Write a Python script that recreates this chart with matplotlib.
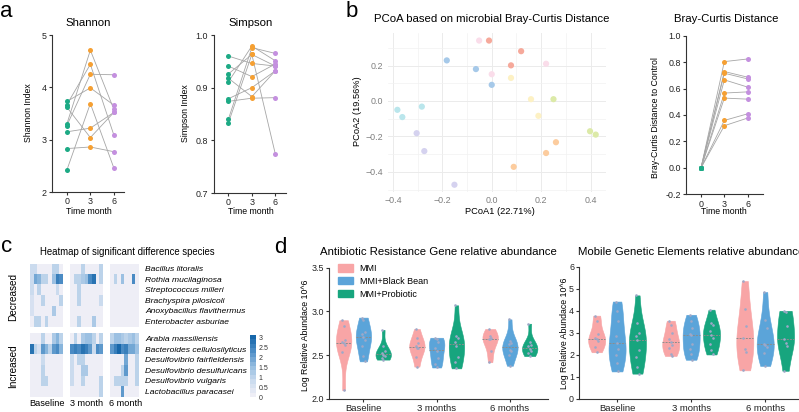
import numpy as np
import matplotlib
matplotlib.use("Agg")
import matplotlib.pyplot as plt
from matplotlib.colors import LinearSegmentedColormap
from matplotlib.patches import Patch
from matplotlib.cm import ScalarMappable
from matplotlib.colors import Normalize

plt.rcParams['font.family'] = ['Liberation Sans', 'DejaVu Sans']
plt.rcParams['axes.unicode_minus'] = False

# ---------------- data ----------------
months = [0, 3, 6]
shannon_0 = [3.30, 3.67, 3.27, 3.73, 2.42, 3.15, 3.62, 2.83]
shannon_3 = [4.71, 4.44, 4.25, 3.99, 3.69, 3.22, 3.04, 2.86]
shannon_6 = [3.58, 3.09, 4.24, 3.66, 2.46, 3.52, 3.52, 2.77]

simpson_0 = [0.840, 0.911, 0.960, 0.926, 0.941, 0.879, 0.874, 0.918, 0.833]
simpson_3 = [0.976, 0.979, 0.946, 0.963, 0.921, 0.900, 0.880, 0.883, 0.963]
simpson_6 = [0.965, 0.951, 0.941, 0.774, 0.945, 0.932, 0.881, 0.932, 0.941]

bray_0 = [0, 0, 0, 0, 0, 0, 0, 0]
bray_3 = [0.804, 0.729, 0.716, 0.666, 0.566, 0.528, 0.359, 0.319]
bray_6 = [0.824, 0.686, 0.673, 0.611, 0.575, 0.520, 0.409, 0.377]

pcoa1 = [-0.051, 0.220, 0.000, -0.011, 0.119, 0.078, -0.182, -0.064, 0.000,
         0.078, 0.159, 0.189, 0.250, 0.398, 0.421, 0.260, 0.220, 0.089,
         -0.382, -0.283, -0.362, -0.304, -0.273, -0.151]
pcoa2 = [0.341, 0.210, 0.151, 0.341, 0.281, 0.201, 0.229, 0.180, 0.091,
         0.130, 0.010, -0.084, 0.010, -0.171, -0.190, -0.233, -0.294, -0.372,
         -0.050, -0.032, -0.091, -0.182, -0.283, -0.473]
pcoa_subject = [0, 0, 0, 1, 1, 1, 2, 2, 2, 3, 3, 3, 4, 4, 4, 5, 5, 5, 6, 6, 6, 7, 7, 7]

decreased_species = ['Bacillus litoralis', 'Rothia mucilaginosa', 'Streptococcus milleri',
                     'Brachyspira pilosicoli', 'Anoxybacillus flavithermus', 'Enterobacter asburiae']
increased_species = ['Arabia massiliensis', 'Bacteroides cellulosilyticus', 'Desulfovibrio fairfieldensis',
                     'Desulfovibrio desulfuricans', 'Desulfovibrio vulgaris', 'Lactobacillus paracasei']
heat_periods = ['Baseline', '3 month', '6 month']

heat_dec_base = [[0.8, 0.8, 0, 0, 0, 0, 1.0, 1.0, 0],
                 [0.8, 1.9, 1.6, 0.9, 0.9, 0, 1.5, 2.6, 2.3],
                 [0.7, 0, 0.9, 0, 0, 0, 0, 0.8, 0],
                 [0.6, 0, 0, 0.9, 0, 0, 0, 0, 0.9],
                 [0.6, 0, 0, 0, 0, 0, 1.3, 0, 0],
                 [0, 1.0, 1.0, 0, 1.0, 0, 0, 0, 0]]
heat_dec_3m = [[0, 0, 0, 1.0, 0, 0, 0, 0, 0.9],
               [0, 0.9, 1.0, 1.2, 1.4, 2.3, 2.7, 0, 1.0],
               [0, 0, 1.0, 0, 0, 0, 0, 0, 0],
               [0, 0, 0.9, 0, 0, 0, 0, 0, 0.8],
               [0, 0, 0, 0, 0, 0, 0, 0, 0],
               [0, 0, 1.0, 0, 0, 0, 1.2, 0, 0]]
heat_dec_6m = [[0, 0, 0, 0, 0, 0, 0, 0],
               [0, 1.0, 0, 1.4, 0, 0, 2.3, 0],
               [0, 0, 0, 0, 0, 0, 0, 0],
               [0, 0, 0, 0, 0, 0, 0, 0],
               [0, 0, 0, 0, 0, 0, 0, 0],
               [0, 0, 0, 0, 0, 0, 0, 0]]
heat_inc_base = [[0, 0, 0, 1.0, 0, 0, 1.3, 1.6, 1.0],
                 [2.8, 1.0, 0.6, 2.2, 1.6, 0.9, 2.0, 2.4, 1.7],
                 [0, 0, 0, 0.8, 0, 0, 0, 0, 0],
                 [0, 0, 0, 0.9, 0, 0, 0, 0, 0],
                 [0, 0, 0, 0.9, 0.9, 0, 0, 0, 0],
                 [0, 0, 0, 0, 0, 0, 0, 0, 0]]
heat_inc_3m = [[0, 1.0, 0, 1.2, 1.4, 1.5, 1.0, 0, 1.0],
               [2.3, 2.6, 2.4, 2.8, 2.5, 2.2, 0.8, 2.3, 2.1],
               [0.8, 0, 0.9, 1.0, 0, 0, 0, 0, 0],
               [0.8, 0, 0, 1.2, 1.2, 0, 0, 0, 0],
               [0.8, 0, 0, 0.9, 0, 0, 0, 0, 0.9],
               [0, 0, 0, 0, 0, 0, 0, 0, 0.9]]
heat_inc_6m = [[0.9, 1.4, 1.5, 1.2, 1.0, 1.3, 1.5, 1.1],
               [2.2, 2.6, 2.9, 2.3, 2.5, 1.8, 1.9, 1.4],
               [0, 0, 0, 0, 1.8, 0, 0, 1.0],
               [0, 0, 0, 1.0, 2.0, 0, 0, 1.0],
               [0, 1.0, 1.0, 1.0, 1.0, 0, 0, 1.0],
               [0, 0, 0, 2.2, 0, 0, 0, 0]]
heat_ticks = [0, 0.5, 1, 1.5, 2, 2.5, 3]

violin_groups = ['MMI', 'MMI+Black Bean', 'MMI+Probiotic']
violin_cats = ['Baseline', '3 months', '6 months']
arg_mmi = [[2.90, 2.83, 2.67, 2.65, 2.64, 2.62, 2.54, 2.10],
           [2.80, 2.70, 2.64, 2.60, 2.58, 2.58, 2.48, 2.37],
           [2.80, 2.72, 2.70, 2.69, 2.68, 2.55, 2.42]]
arg_bb = [[2.93, 2.90, 2.77, 2.74, 2.71, 2.67, 2.60, 2.49, 2.43],
          [2.70, 2.68, 2.65, 2.58, 2.55, 2.47, 2.40, 2.36],
          [2.91, 2.66, 2.64, 2.63, 2.56, 2.55, 2.50, 2.38]]
arg_pro = [[2.79, 2.60, 2.55, 2.52, 2.50, 2.49, 2.47, 2.45],
           [3.07, 2.72, 2.70, 2.65, 2.60, 2.48, 2.42, 2.35],
           [2.86, 2.65, 2.62, 2.60, 2.57, 2.55, 2.52, 2.49]]
mge_mmi = [[3.78, 3.55, 2.95, 2.75, 2.70, 2.62, 2.35, 2.12],
           [3.55, 3.35, 3.00, 2.70, 2.60, 2.45, 2.30, 2.05, 1.95],
           [5.35, 4.10, 3.30, 2.78, 2.25, 2.15, 1.30]]
mge_bb = [[4.42, 4.00, 3.55, 2.85, 2.55, 2.25, 2.00, 1.65, 1.25],
          [3.82, 3.55, 3.20, 2.95, 2.90, 2.50, 2.25, 2.05, 1.78],
          [4.85, 3.60, 3.20, 2.50, 2.45, 2.35, 2.10, 1.50]]
mge_pro = [[4.70, 3.45, 3.00, 2.85, 2.68, 2.20, 1.90, 1.45, 1.15],
           [4.05, 3.45, 3.35, 3.10, 2.88, 2.75, 2.50, 2.20, 2.02],
           [4.00, 3.95, 3.30, 2.70, 2.55, 2.40, 1.28]]

# ---------------- styles ----------------
W, H = 799, 412
C_GREEN, C_ORANGE, C_PURPLE = '#1DAA85', '#F5A033', '#C490DF'
PCOA_COLORS = ['#FADDEA', '#F6A99B', '#A6C9E9', '#FDF1C4', '#DCEAA8', '#FCCC9E', '#BAE6EC', '#D5D2EF']
VCOLORS = ['#F8A5A6', '#5BA4D9', '#17A57E']
SPINE = '#333333'
TFS, LFS, KFS = 8.2, 6.3, 6.4

fig = plt.figure(figsize=(W / 100, H / 100), dpi=100)


def add_ax(l, t, r, b):
    return fig.add_axes([l / W, 1 - b / H, (r - l) / W, (b - t) / H])


def ftext(x, y, s, **kw):
    kw.setdefault('ha', 'center')
    kw.setdefault('va', 'center')
    return fig.text(x / W, 1 - y / H, s, **kw)


def prism_axes(ax):
    for s in ['top', 'right']:
        ax.spines[s].set_visible(False)
    for s in ['left', 'bottom']:
        ax.spines[s].set_color(SPINE)
        ax.spines[s].set_linewidth(0.8)
    ax.tick_params(length=2.3, width=0.8, color=SPINE, labelsize=KFS, pad=1.5, labelcolor='#222222')


def paired(ax, v0, v3, v6, ylim, yticks, ylabels):
    for a, b, c in zip(v0, v3, v6):
        ax.plot(months, [a, b, c], color='#A6A6A6', lw=0.6, zorder=1)
    for m, vals, col in zip(months, [v0, v3, v6], [C_GREEN, C_ORANGE, C_PURPLE]):
        ax.scatter([m] * len(vals), vals, s=13, color=col, zorder=3, linewidths=0)
    ax.set_ylim(*ylim)
    ax.set_yticks(yticks)
    ax.set_yticklabels(ylabels)
    ax.set_xticks(months)
    prism_axes(ax)


# ---------------- panel a ----------------
ax = add_ax(52, 35, 124, 192)
ax.set_xlim(-1.9, 7.3)
paired(ax, shannon_0, shannon_3, shannon_6, (2, 5), [2, 3, 4, 5], ['2', '3', '4', '5'])
ftext(88, 23, 'Shannon', fontsize=TFS)
ftext(29, 113, 'Shannon Index', fontsize=LFS, rotation=90)
ftext(89, 211, 'Time month', fontsize=LFS)

ax = add_ax(213.5, 35, 285.5, 193)
ax.set_xlim(-1.9, 7.3)
paired(ax, simpson_0, simpson_3, simpson_6, (0.7, 1.0), [0.7, 0.8, 0.9, 1.0], ['0.7', '0.8', '0.9', '1.0'])
ftext(251, 23, 'Simpson', fontsize=TFS)
ftext(185, 113, 'Simpson Index', fontsize=LFS, rotation=90)
ftext(251, 211, 'Time month', fontsize=LFS)

# ---------------- panel b ----------------
axp = add_ax(387.5, 33.3, 605.6, 192)
axp.set_xlim(-0.422, 0.461)
axp.set_ylim(-0.514, 0.382)
for s in axp.spines.values():
    s.set_visible(False)
axp.set_xticks([-0.4, -0.2, 0.0, 0.2, 0.4])
axp.set_xticklabels(['\u22120.4', '\u22120.2', '0.0', '0.2', '0.4'])
axp.set_yticks([-0.4, -0.2, 0.0, 0.2])
axp.set_yticklabels(['\u22120.4', '\u22120.2', '0.0', '0.2'])
axp.set_xticks([-0.3, -0.1, 0.1, 0.3], minor=True)
axp.set_yticks([-0.5, -0.3, -0.1, 0.1, 0.3], minor=True)
axp.grid(which='major', color='#EBEBEB', lw=0.7)
axp.grid(which='minor', color='#F2F2F2', lw=0.5)
axp.set_axisbelow(True)
axp.tick_params(which='both', length=0, labelsize=KFS, labelcolor='#7F7F7F', pad=3)
pc = [PCOA_COLORS[i] for i in pcoa_subject]
axp.scatter(pcoa1, pcoa2, s=20, c=pc, linewidths=0, zorder=3)
ftext(492, 19, 'PCoA based on microbial Bray-Curtis Distance', fontsize=TFS)
ftext(357, 111, 'PCoA2 (19.56%)', fontsize=LFS + 0.4, rotation=90)
ftext(500, 212, 'PCoA1 (22.71%)', fontsize=LFS + 0.4)

axb = add_ax(686, 35.7, 762.7, 194.3)
axb.set_xlim(-1.93, 7.93)
paired(axb, bray_0, bray_3, bray_6, (-0.2, 1.0), [-0.2, 0, 0.2, 0.4, 0.6, 0.8, 1.0],
       ['-0.2', '0.0', '0.2', '0.4', '0.6', '0.8', '1.0'])
ftext(726.7, 19, 'Bray-Curtis Distance', fontsize=TFS)
ftext(655, 118, 'Bray-Curtis Distance to Control', fontsize=LFS, rotation=90)
ftext(724, 212, 'Time month', fontsize=LFS)

# ---------------- panel c ----------------
cmap = LinearSegmentedColormap.from_list(
    'hm', ['#EEEEF6', '#C9DAEE', '#93BCE0', '#4F8FC7', '#1767AA'], N=14)
norm = Normalize(0, 3.1)
col_x = [(29.5, 62.5), (69.5, 102.5), (110, 139)]
row_y = [(263.5, 326.7), (333.3, 396.7)]
blocks = [[heat_dec_base, heat_dec_3m, heat_dec_6m], [heat_inc_base, heat_inc_3m, heat_inc_6m]]
for r, (t, b) in enumerate(row_y):
    for c, (l, rr) in enumerate(col_x):
        axh = add_ax(l, t, rr, b)
        axh.imshow(np.array(blocks[r][c]), cmap=cmap, norm=norm, aspect='auto', interpolation='nearest')
        axh.axis('off')
for species, (t, b) in zip([decreased_species, increased_species], row_y):
    rh = (b - t) / len(species)
    for i, sp in enumerate(species):
        ftext(145, t + rh * (i + 0.5) + 1, sp, fontsize=6.1, style='italic', ha='left')
ftext(13, 297, 'Decreased', fontsize=7.2, rotation=90)
ftext(13, 366, 'Increased', fontsize=7.2, rotation=90)
for (l, rr), lab in zip(col_x, heat_periods):
    ftext((l + rr) / 2 + 1, 404, lab, fontsize=6.6)
ftext(127, 252, 'Heatmap of significant difference species', fontsize=6.9)
axc = add_ax(250, 335, 256, 397)
cb = fig.colorbar(ScalarMappable(norm=norm, cmap=cmap), cax=axc, ticks=heat_ticks)
cb.outline.set_visible(False)
cb.ax.set_yticklabels(['0', '0.5', '1', '1.5', '2', '2.5', '3'])
cb.ax.tick_params(length=0, labelsize=5, pad=2, labelcolor='#333333')

# ---------------- panel d ----------------
def violins(ax, groups_data, offset, width):
    for g, (vals_list, col) in enumerate(zip(groups_data, VCOLORS)):
        for c, vals in enumerate(vals_list):
            pos = c + (g - 1) * offset
            parts = ax.violinplot([vals], positions=[pos], widths=width, showextrema=False)
            body = parts['bodies'][0]
            body.set_facecolor(col)
            body.set_edgecolor(col)
            body.set_alpha(1)
            body.set_linewidth(0.4)
            med = float(np.median(vals))
            v = body.get_paths()[0].vertices
            right = v[v[:, 0] > pos + 1e-6]
            order = np.argsort(right[:, 1])
            hw = np.interp(med, right[order, 1], right[order, 0]) - pos
            ax.plot([pos - hw, pos + hw], [med, med], ls=(0, (2, 1.2)), color='#8C8C8C', lw=0.7, zorder=3)
            n = len(vals)
            xo = pos + (np.arange(n) % 3 - 1) * 0.018
            ax.scatter(xo, vals, s=3.5, color='#9EA8C8', zorder=4, linewidths=0)


axd1 = add_ax(329, 267.7, 548, 399)
violins(axd1, [arg_mmi, arg_bb, arg_pro], 0.27, 0.21)
axd1.set_xlim(-0.47, 2.52)
axd1.set_ylim(2.0, 3.5)
axd1.set_yticks([2.0, 2.5, 3.0, 3.5])
axd1.set_yticklabels(['2.0', '2.5', '3.0', '3.5'])
axd1.set_xticks([0, 1, 2])
axd1.set_xticklabels(violin_cats)
prism_axes(axd1)
axd1.tick_params(axis='x', labelsize=6.8)
ftext(438.5, 252, 'Antibiotic Resistance Gene relative abundance', fontsize=TFS)
ftext(305, 335, 'Log Relative Abundace 10^6', fontsize=LFS, rotation=90)
handles = [Patch(facecolor=c, edgecolor=c) for c in VCOLORS]
axd1.legend(handles, violin_groups, loc='upper left', bbox_to_anchor=(338 / W, 1 - 264 / H),
            bbox_transform=fig.transFigure, frameon=False, fontsize=6.5, handlelength=1.7,
            handleheight=0.9, labelspacing=0.42, handletextpad=0.7, borderpad=0, borderaxespad=0)

axd2 = add_ax(579.3, 266.7, 800, 399)
violins(axd2, [mge_mmi, mge_bb, mge_pro], 0.275, 0.23)
axd2.set_xlim(-0.51, 2.47)
axd2.set_ylim(0, 6)
axd2.set_yticks([0, 1, 2, 3, 4, 5, 6])
axd2.set_xticks([0, 1, 2])
axd2.set_xticklabels(violin_cats)
prism_axes(axd2)
axd2.tick_params(axis='x', labelsize=6.8)
ftext(577.7, 252, 'Mobile Genetic Elements relative abundance', fontsize=TFS, ha='left')
ftext(564.3, 333, 'Log Relative Abundace 10^6', fontsize=LFS, rotation=90)

# panel letters
fig.text(0 / W, 1 - 17 / H, 'a', fontsize=16, va='baseline', ha='left')
fig.text(346 / W, 1 - 17 / H, 'b', fontsize=16, va='baseline', ha='left')
fig.text(1 / W, 1 - 252 / H, 'c', fontsize=16, va='baseline', ha='left')
fig.text(274 / W, 1 - 253 / H, 'd', fontsize=16, va='baseline', ha='left')

fig.savefig('out.png', dpi=100)
